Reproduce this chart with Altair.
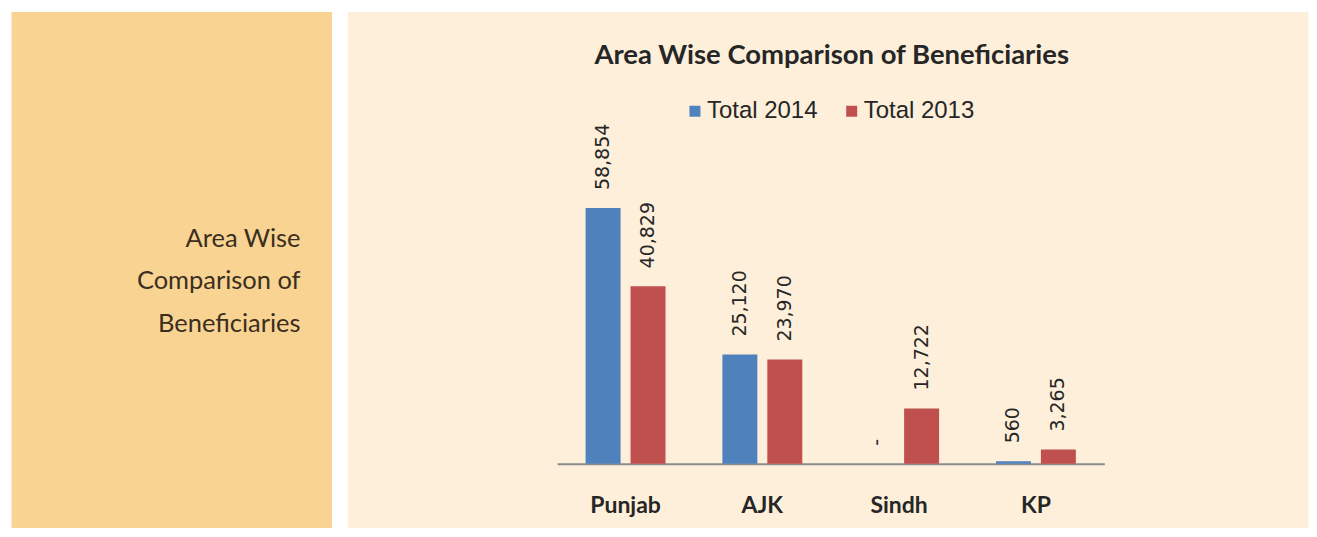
import altair as alt
import pandas as pd

# ---- data ----
areas = ["Punjab", "AJK", "Sindh", "KP"]
series = ["Total 2014", "Total 2013"]
values_2014 = [58854, 25120, 0, 560]
values_2013 = [40829, 23970, 12722, 3265]
side_caption = ["Area Wise", "Comparison of", "Beneficiaries"]
chart_title = "Area Wise Comparison of Beneficiaries"

rows = []
for a, v in zip(areas, values_2014):
    rows.append({"area": a, "series": series[0], "value": v})
for a, v in zip(areas, values_2013):
    rows.append({"area": a, "series": series[1], "value": v})
df = pd.DataFrame(rows)

BLUE = "#4F81BD"
RED = "#C0504D"
ORANGE = "#F9D392"
CREAM = "#FDEFDA"
TEXT = "#262626"

# ---- left panel ----
left = alt.Chart(pd.DataFrame({"caption": ["\n".join(side_caption)]})).mark_text(
    align="right", baseline="alphabetic", font="Lato", fontSize=25.5,
    lineHeight=42.5, color="#3a2e1f", lineBreak="\n"
).encode(
    x=alt.value(290), y=alt.value(236), text="caption:N"
).properties(width=321, height=517,
             view=alt.ViewBackground(fill=ORANGE, stroke="transparent"))

# ---- right panel ----
xscale = alt.Scale(range=[210, 758], paddingInner=0, paddingOuter=0)
yscale = alt.Scale(domain=[0, 70000], range=[453, 148.5])
offscale = alt.Scale(paddingInner=0.222, paddingOuter=0.633)

base = alt.Chart(df).encode(
    x=alt.X("area:N", sort=areas, scale=xscale, title=None,
            axis=alt.Axis(orient="bottom", offset=-64, ticks=False, tickSize=0,
                          labelPadding=31, labelFont="Lato", labelFontWeight="bold",
                          labelFontSize=23, labelColor=TEXT, labelAngle=0,
                          domainColor="#8C8C8C", domainWidth=2, grid=False)),
    xOffset=alt.XOffset("series:N", sort=series, scale=offscale),
    y=alt.Y("value:Q", scale=yscale, axis=None),
)

bars = base.mark_bar().encode(
    color=alt.Color("series:N", sort=series,
                    scale=alt.Scale(domain=series, range=[BLUE, RED]),
                    legend=alt.Legend(title=None, orient="none", legendX=673, legendY=88,
                                      direction="horizontal", symbolType="square",
                                      symbolSize=121, symbolStrokeWidth=0,
                                      labelFont="Liberation Sans", labelFontSize=24,
                                      labelColor=TEXT, labelOffset=0, columnPadding=22,
                                      padding=0))
)

labels = base.transform_calculate(
    label="datum.value == 0 ? '-' : format(datum.value, ',')"
).mark_text(angle=270, align="left", baseline="middle", dx=18,
            font="DejaVu Sans", fontSize=19, color=TEXT).encode(text="label:N")

right = alt.layer(bars, labels).properties(
    width=962, height=517,
    view=alt.ViewBackground(fill=CREAM, stroke="transparent"),
    title=alt.TitleParams(chart_title, font="Lato", fontSize=27.5, fontWeight="bold",
                          color=TEXT, anchor="middle", baseline="alphabetic",
                          offset=-80, dx=4),
)

chart = alt.hconcat(left, right, spacing=14).properties(
    padding={"left": 2, "top": 2, "right": 0, "bottom": 0},
    background="white",
).configure_view(stroke="transparent")

chart.save("out.html", embed_options={"renderer": "svg", "actions": False})
